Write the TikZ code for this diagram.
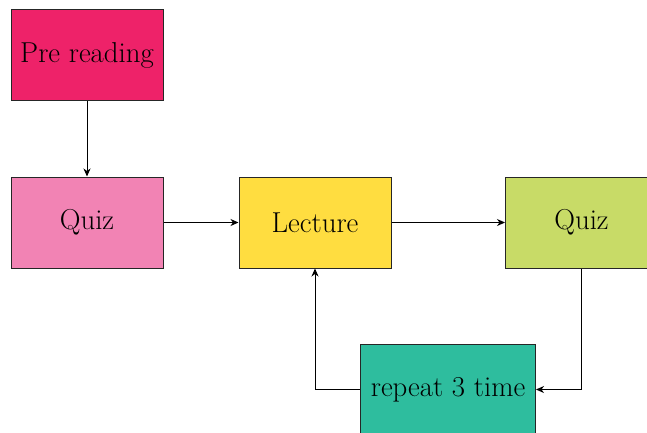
\documentclass[tikz,border=0pt]{standalone}
\usepackage{fontspec}
\usetikzlibrary{arrows.meta}
\definecolor{cPre}{HTML}{EE2269}
\definecolor{cQuizA}{HTML}{F283B4}
\definecolor{cLect}{HTML}{FFDD40}
\definecolor{cQuizB}{HTML}{C8DB67}
\definecolor{cRep}{HTML}{2EBD9E}
\tikzset{
  box/.style={draw=black!85, line width=1pt, minimum width=152pt, minimum height=91pt, inner sep=0pt, font=\fontsize{28.8}{34}\selectfont},
  conn/.style={draw=black, line width=1pt, -{Stealth[length=8pt,width=7pt,inset=2.5pt]}}
}
\begin{document}
\begin{tikzpicture}[x=1pt,y=1pt]
\useasboundingbox (0,0) rectangle (647,-432);
\node[box, fill=cPre] (pre) at (87,-55) {Pre reading};
\node[box, fill=cQuizA] (quizA) at (87,-222.5) {Quiz};
\node[box, fill=cLect] (lect) at (315,-222.5) {Lecture};
\node[box, fill=cQuizB] (quizB) at (581.5,-222.5) {Quiz};
\node[box, fill=cRep, minimum width=175pt] (rep) at (448,-389.5) {repeat 3 time};
\draw[conn] (pre.south) -- (quizA.north);
\draw[conn] (quizA.east) -- (lect.west);
\draw[conn] (lect.east) -- (quizB.west);
\draw[conn] (quizB.south) |- (rep.east);
\draw[conn] (rep.west) -| (lect.south);
\end{tikzpicture}
\end{document}
